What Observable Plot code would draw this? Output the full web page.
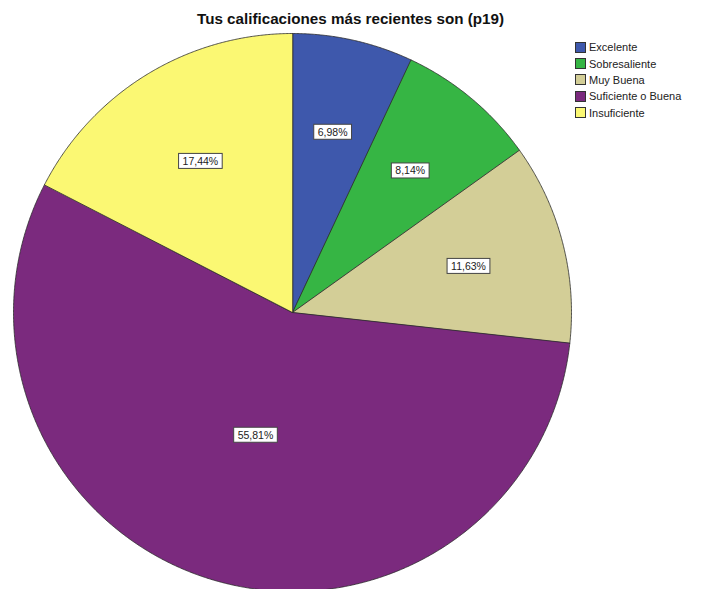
<!DOCTYPE html>
<html><head><meta charset="utf-8">
<script src="https://cdn.jsdelivr.net/npm/d3@7"></script>
<script src="https://cdn.jsdelivr.net/npm/@observablehq/plot@0.6"></script>
<style>
body{margin:0;background:#fff;font-family:"Liberation Sans",Arial,sans-serif}
#wrap{position:relative;width:701px;height:589px;overflow:hidden}
#chart{position:absolute;left:0;top:0}
#title{position:absolute;left:0;top:10px;width:701px;text-align:center;font-weight:bold;font-size:15.2px;line-height:17px;color:#111}
#legend{position:absolute;left:575px;top:39px;font-size:11px;color:#222}
.li{display:flex;align-items:center;height:16.4px;white-space:nowrap}
.sw{width:9px;height:9px;border:1px solid #333;margin-right:3px;flex:none}
</style></head><body>
<div id="wrap"><div id="chart"></div><div id="title"></div><div id="legend"></div></div>
<script>
const chartTitle = "Tus calificaciones más recientes son (p19)";
const categories = ["Excelente", "Sobresaliente", "Muy Buena", "Suficiente o Buena", "Insuficiente"];
const percents = [6.98, 8.14, 11.63, 55.81, 17.44];
const labels = ["6,98%", "8,14%", "11,63%", "55,81%", "17,44%"];
const colors = ["#3E58AC", "#36B544", "#D3CE97", "#7B2A7E", "#FBF873"];

document.getElementById("title").textContent = chartTitle;

const total = d3.sum(percents);
const poly = [];
const labelPts = [];
let start = 0;
categories.forEach((c, i) => {
  const a0 = start / total * 2 * Math.PI;
  const a1 = (start + percents[i]) / total * 2 * Math.PI;
  start += percents[i];
  poly.push({cat: c, x: 0, y: 0});
  const n = Math.max(2, Math.ceil((a1 - a0) / 0.005));
  for (let k = 0; k <= n; k++) {
    const a = a0 + (a1 - a0) * k / n;
    poly.push({cat: c, x: Math.sin(a), y: Math.cos(a)});
  }
  const half = (a1 - a0) / 2;
  const mid = a0 + half;
  const rr = Math.max(0.46, 2 * Math.sin(half) / (3 * half));
  labelPts.push({cat: c, label: labels[i], x: rr * Math.sin(mid), y: rr * Math.cos(mid)});
});

const plot = Plot.plot({
  width: 701,
  height: 589,
  marginLeft: 13,
  marginRight: 130,
  marginTop: 33,
  marginBottom: -2,
  x: {domain: [-1, 1], axis: null},
  y: {domain: [-1, 1], axis: null},
  color: {domain: categories, range: colors},
  style: {background: "transparent", fontFamily: "Liberation Sans, Arial, sans-serif"},
  marks: [
    Plot.line(poly, {x: "x", y: "y", z: "cat", fill: "cat", stroke: "#2a2a2a", strokeWidth: 0.8, curve: "linear-closed", strokeLinejoin: "round"}),
    Plot.text(labelPts, {x: "x", y: "y", text: "label", fontSize: 10.5, fill: "#222", className: "plbl"})
  ]
});
document.getElementById("chart").appendChild(plot);

// boxes behind labels
plot.querySelectorAll(".plbl text").forEach(t => {
  const b = t.getBBox();
  const r = document.createElementNS("http://www.w3.org/2000/svg", "rect");
  r.setAttribute("x", b.x - 4);
  r.setAttribute("y", b.y - 1.5);
  r.setAttribute("width", b.width + 8);
  r.setAttribute("height", b.height + 3);
  r.setAttribute("fill", "#fff");
  r.setAttribute("stroke", "#444");
  r.setAttribute("stroke-width", "1");
  if (t.getAttribute("transform")) r.setAttribute("transform", t.getAttribute("transform"));
  t.parentNode.insertBefore(r, t);
});

const leg = document.getElementById("legend");
categories.forEach((c, i) => {
  const d = document.createElement("div");
  d.className = "li";
  const s = document.createElement("span");
  s.className = "sw";
  s.style.background = colors[i];
  const l = document.createElement("span");
  l.textContent = c;
  d.appendChild(s); d.appendChild(l);
  leg.appendChild(d);
});
</script>
</body></html>
